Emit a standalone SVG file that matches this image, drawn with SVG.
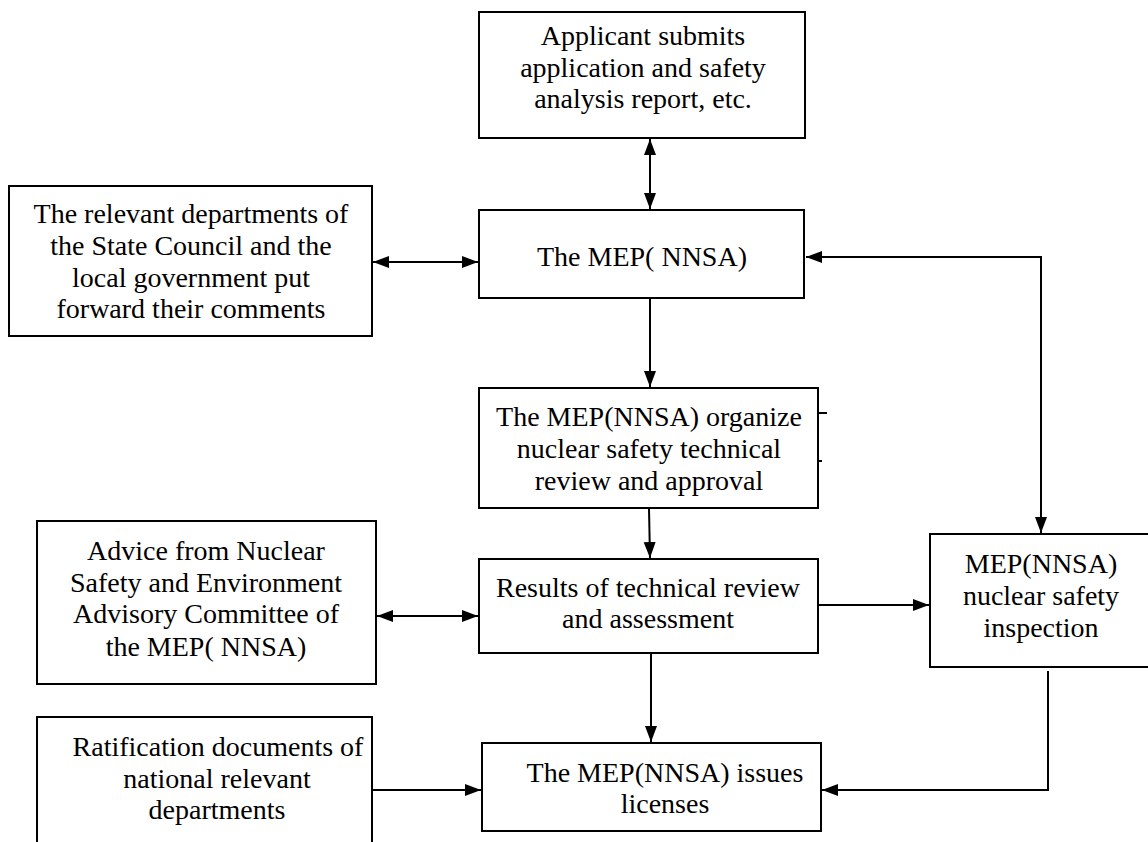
<svg xmlns="http://www.w3.org/2000/svg" width="1148" height="842" viewBox="0 0 1148 842">
<style>
.box{fill:#fff;stroke:#000;stroke-width:2}
.t{font-family:'Liberation Serif','DejaVu Serif','Times New Roman',Times,serif;font-size:28px;fill:#000;text-anchor:middle}
.c{fill:none;stroke:#000;stroke-width:2}
.e{marker-end:url(#ah)}
.b{marker-start:url(#ah);marker-end:url(#ah)}
</style>
<defs>
<marker id="ah" markerUnits="userSpaceOnUse" markerWidth="17" markerHeight="13" refX="16" refY="6" orient="auto-start-reverse">
<path d="M0,0 L16,6 L0,12 z" fill="#000"/>
</marker>
</defs>
<rect width="1148" height="842" fill="#fff"/>
<g id="connectors">
<path class="c b" d="M650,139 L650,209"/>
<path class="c b" d="M373,262 L478,262"/>
<path class="c e" d="M650,299 L650,387"/>
<path class="c b" d="M1041,533 L1041,257 L806,257"/>
<path class="c e" d="M649,509 L650,558"/>
<path class="c b" d="M377,616 L478,616"/>
<path class="c e" d="M819,605 L929,605"/>
<path class="c e" d="M651,654 L651,742"/>
<path class="c e" d="M373,790 L481,790"/>
<path class="c e" d="M1048,671 L1048,790 L822,790"/>
<path class="c" d="M819,413 L827,413"/>
<path class="c" d="M819,461 L822,461"/>
</g>
<g id="applicant">
<rect class="box" x="479" y="12" width="326" height="126"/>
<text class="t" x="643" y="45">Applicant submits</text>
<text class="t" x="643" y="77">application and safety</text>
<text class="t" x="643" y="108">analysis report, etc.</text>
</g>
<g id="mep">
<rect class="box" x="479" y="210" width="325" height="88"/>
<text class="t" x="642" y="266">The MEP( NNSA)</text>
</g>
<g id="departments">
<rect class="box" x="9" y="186" width="363" height="150"/>
<text class="t" x="191" y="223">The relevant departments of</text>
<text class="t" x="191" y="255">the State Council and the</text>
<text class="t" x="191" y="287">local government put</text>
<text class="t" x="191" y="318">forward their comments</text>
</g>
<g id="organize">
<rect class="box" x="479" y="388" width="339" height="120"/>
<text class="t" x="649" y="426">The MEP(NNSA) organize</text>
<text class="t" x="649" y="458">nuclear safety technical</text>
<text class="t" x="649" y="490">review and approval</text>
</g>
<g id="advice">
<rect class="box" x="37" y="521" width="339" height="163"/>
<text class="t" x="206" y="560">Advice from Nuclear</text>
<text class="t" x="206" y="592">Safety and Environment</text>
<text class="t" x="206" y="623">Advisory Committee of</text>
<text class="t" x="206" y="656">the MEP( NNSA)</text>
</g>
<g id="results">
<rect class="box" x="479" y="559" width="339" height="94"/>
<text class="t" x="648" y="597">Results of technical review</text>
<text class="t" x="648" y="628">and assessment</text>
</g>
<g id="inspection">
<rect class="box" x="930" y="534" width="222" height="133"/>
<text class="t" x="1041" y="573">MEP(NNSA)</text>
<text class="t" x="1041" y="605">nuclear safety</text>
<text class="t" x="1041" y="637">inspection</text>
</g>
<g id="ratification">
<rect class="box" x="37" y="717" width="335" height="140"/>
<text class="t" x="218" y="756">Ratification documents of</text>
<text class="t" x="217" y="788">national relevant</text>
<text class="t" x="217" y="819">departments</text>
</g>
<g id="issues">
<rect class="box" x="482" y="743" width="339" height="88"/>
<text class="t" x="665" y="782">The MEP(NNSA) issues</text>
<text class="t" x="665" y="813">licenses</text>
</g>
</svg>
